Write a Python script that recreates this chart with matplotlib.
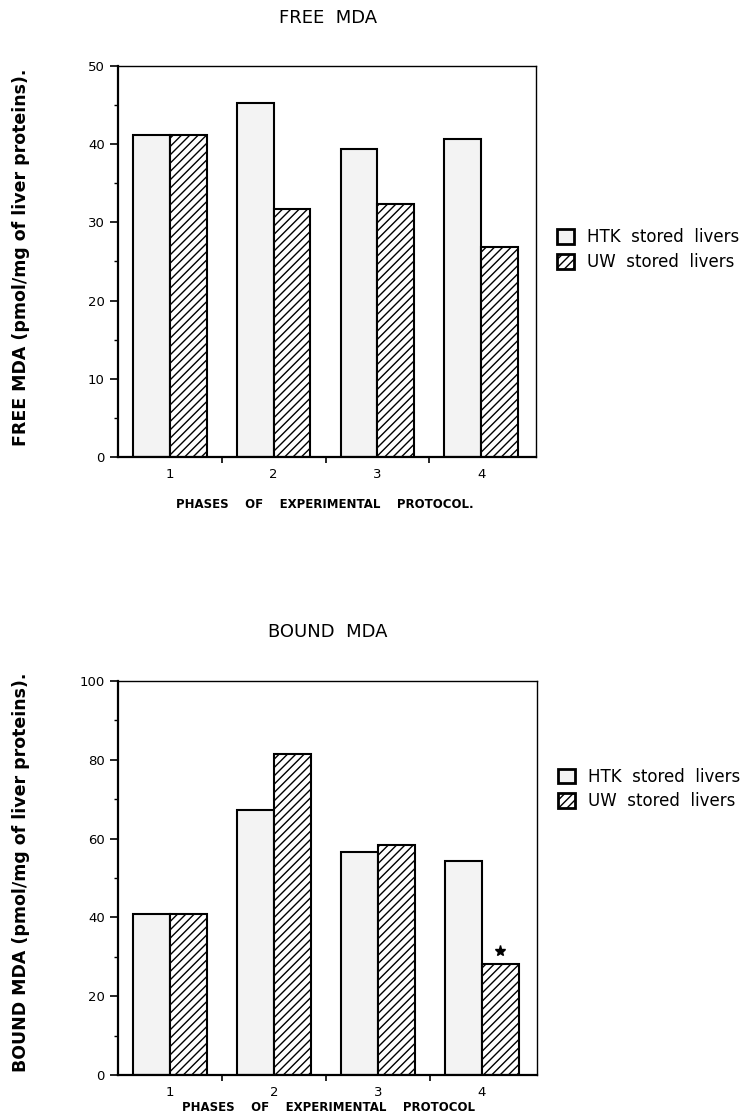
import numpy as np
import matplotlib
matplotlib.use('Agg')
import matplotlib.pyplot as plt
import matplotlib.ticker as mticker

phases = [1, 2, 3, 4]
free_htk = [41.2, 45.2, 39.4, 40.7]
free_uw = [41.2, 31.7, 32.4, 26.8]
bound_htk = [40.8, 67.3, 56.6, 54.3]
bound_uw = [40.8, 81.5, 58.4, 28.3]
star_phase = 4
star_y = 31.5
legend_labels = ['HTK  stored  livers', 'UW  stored  livers']

plt.rcParams['font.family'] = 'DejaVu Sans'
plt.rcParams['hatch.linewidth'] = 1.0

fig = plt.figure(figsize=(7.51, 11.16), dpi=100)
ax1 = fig.add_axes([0.157, 0.5905, 0.557, 0.3504])
ax2 = fig.add_axes([0.157, 0.0367, 0.558, 0.3530])

w = 0.355
x = np.array(phases)


def draw(ax, htk, uw, ymax, ystep, leg_y):
    b1 = ax.bar(x - w, htk, w, align='edge', facecolor='#f3f3f3', edgecolor='k', linewidth=1.5)
    b2 = ax.bar(x, uw, w, align='edge', facecolor='white', edgecolor='k', linewidth=1.5, hatch='////')
    ax.set_xlim(0.5, 4.53)
    ax.set_ylim(0, ymax)
    ax.set_yticks(np.arange(0, ymax + 1, ystep))
    ax.yaxis.set_minor_locator(mticker.MultipleLocator(ystep / 2))
    ax.set_xticks([1.5, 2.5, 3.5])
    ax.set_xticklabels([])
    ax.set_xticks(phases, minor=True)
    ax.set_xticklabels([str(p) for p in phases], minor=True)
    ax.tick_params(axis='x', which='major', direction='out', length=4, width=1.2)
    ax.tick_params(axis='x', which='minor', length=0, pad=8, labelsize=9.5)
    ax.tick_params(axis='y', which='major', direction='out', length=6, width=1.2, labelsize=9.5)
    ax.tick_params(axis='y', which='minor', direction='out', length=3, width=1)
    for s in ['left', 'bottom']:
        ax.spines[s].set_linewidth(1.6)
    for s in ['top', 'right']:
        ax.spines[s].set_linewidth(1.0)
    leg = ax.legend([b1, b2], legend_labels, loc='center left', bbox_to_anchor=(1.03, leg_y),
                    frameon=False, fontsize=12, handlelength=1.0, handleheight=1.0,
                    handletextpad=0.8, labelspacing=0.4, borderpad=0)
    for h in leg.legend_handles:
        h.set_linewidth(2)
    return b1, b2


draw(ax1, free_htk, free_uw, 50, 10, 0.53)
draw(ax2, bound_htk, bound_uw, 100, 20, 0.726)
ax2.plot([star_phase + w / 2], [star_y], marker='*', color='k', markersize=8, linestyle='none')

# titles and axis labels placed on the figure
fig.text(0.437, 0.9835, 'FREE  MDA', ha='center', va='center', fontsize=13)
fig.text(0.437, 0.4335, 'BOUND  MDA', ha='center', va='center', fontsize=13)
fig.text(0.432, 0.5475, 'PHASES    OF    EXPERIMENTAL    PROTOCOL.', ha='center', va='center',
         fontsize=8.5, fontweight='bold')
fig.text(0.437, 0.0075, 'PHASES    OF    EXPERIMENTAL    PROTOCOL', ha='center', va='center',
         fontsize=8.5, fontweight='bold')
fig.text(0.028, 0.769, 'FREE MDA (pmol/mg of liver proteins).', rotation=90,
         ha='center', va='center', fontsize=12.5, fontweight='bold')
fig.text(0.028, 0.218, 'BOUND MDA (pmol/mg of liver proteins).', rotation=90,
         ha='center', va='center', fontsize=12.5, fontweight='bold')

fig.savefig('out.png', dpi=100)
